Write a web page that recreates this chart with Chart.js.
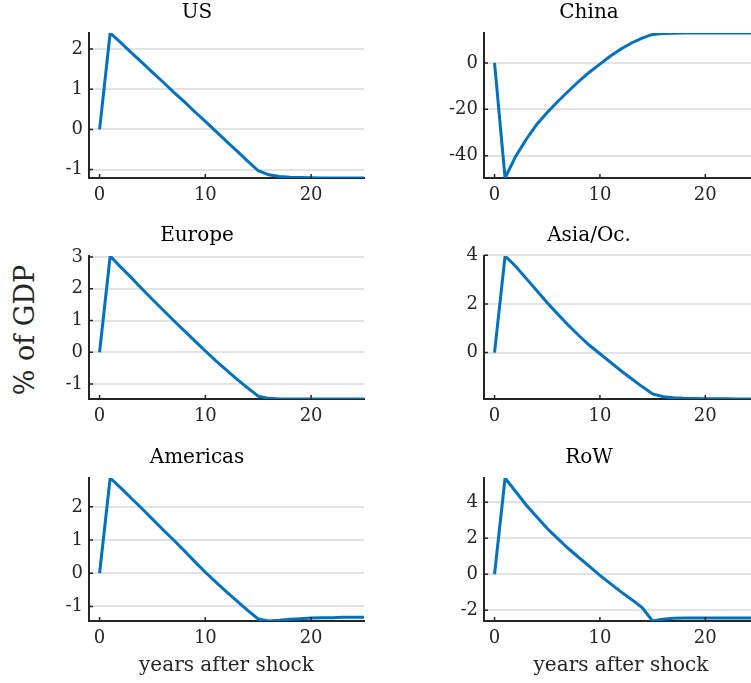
<!DOCTYPE html>
<html>
<head>
<meta charset="utf-8">
<script src="https://cdn.jsdelivr.net/npm/chart.js@4"></script>
<style>
  html, body { margin: 0; padding: 0; background: #fff; overflow: hidden; width: 751px; height: 683px; }
  body { position: relative; }
  canvas { position: absolute; }
  #ylabel {
    position: absolute; left: 24px; top: 330px;
    transform: translate(-50%, -50%) rotate(-90deg);
    font-family: 'DejaVu Serif', serif; font-size: 27px; line-height: 1;
    color: #262626; white-space: nowrap;
  }
</style>
</head>
<body>
<div id="ylabel">% of GDP</div>
<canvas id="cUS"></canvas>
<canvas id="cChina"></canvas>
<canvas id="cEurope"></canvas>
<canvas id="cAsia"></canvas>
<canvas id="cAmericas"></canvas>
<canvas id="cRoW"></canvas>
<script>
// years after the shock
const years = [0, 1, 2, 3, 4, 5, 6, 7, 8, 9, 10, 11, 12, 13, 14, 15, 16, 17, 18, 19, 20, 21, 22, 23, 24, 25];

// % of GDP
const usValues = [0, 2.40, 2.16, 1.91, 1.67, 1.42, 1.18, 0.93, 0.69, 0.44, 0.20, -0.05, -0.30, -0.54, -0.79, -1.03, -1.13, -1.17, -1.19, -1.20, -1.205, -1.21, -1.21, -1.21, -1.21, -1.21];
const chinaValues = [0, -49.6, -40.3, -33.0, -26.5, -21.4, -16.6, -12.2, -7.9, -4.0, -0.5, 3.0, 6.0, 8.6, 10.7, 12.3, 12.7, 12.8, 12.85, 12.9, 12.9, 12.9, 12.9, 12.9, 12.9, 12.9];
const europeValues = [0, 3.03, 2.68, 2.35, 2.00, 1.66, 1.33, 1.00, 0.68, 0.36, 0.04, -0.27, -0.56, -0.85, -1.12, -1.38, -1.45, -1.47, -1.47, -1.47, -1.47, -1.47, -1.47, -1.47, -1.47, -1.47];
const asiaValues = [0, 3.97, 3.55, 3.05, 2.55, 2.05, 1.58, 1.12, 0.70, 0.30, -0.05, -0.40, -0.75, -1.08, -1.40, -1.70, -1.82, -1.86, -1.88, -1.89, -1.90, -1.90, -1.90, -1.91, -1.91, -1.91];
const americasValues = [0, 2.87, 2.57, 2.26, 1.95, 1.63, 1.31, 1.00, 0.68, 0.35, 0.03, -0.27, -0.56, -0.84, -1.12, -1.38, -1.44, -1.42, -1.39, -1.37, -1.35, -1.34, -1.34, -1.33, -1.33, -1.33];
const rowValues = [0, 5.35, 4.60, 3.85, 3.20, 2.54, 1.98, 1.43, 0.93, 0.44, -0.06, -0.52, -0.98, -1.40, -1.85, -2.60, -2.50, -2.45, -2.43, -2.43, -2.43, -2.43, -2.43, -2.43, -2.43, -2.43];

// tick labels
const xTicks = [0, 10, 20];
const usTicks = [-1, 0, 1, 2];
const chinaTicks = [-40, -20, 0];
const europeTicks = [-1, 0, 1, 2, 3];
const asiaTicks = [0, 2, 4];
const americasTicks = [-1, 0, 1, 2];
const rowTicks = [-2, 0, 2, 4];

const xLabel = 'years after shock';

Chart.defaults.font.family = "'DejaVu Serif', serif";
Chart.defaults.color = '#262626';

const axisColor = '#262626';
const lineColor = '#0072BD';

// matlab-style ticks pointing into the plot
const inwardTicks = {
  id: 'inwardTicks',
  afterDatasetsDraw(chart) {
    const { ctx, chartArea: a, scales: { x, y } } = chart;
    ctx.save();
    ctx.strokeStyle = axisColor;
    ctx.lineWidth = 1.5;
    ctx.beginPath();
    x.ticks.forEach(t => {
      const px = x.getPixelForValue(t.value);
      ctx.moveTo(px, a.bottom);
      ctx.lineTo(px, a.bottom - 4);
    });
    y.ticks.forEach(t => {
      const py = y.getPixelForValue(t.value);
      ctx.moveTo(a.left, py);
      ctx.lineTo(a.left + 4, py);
    });
    ctx.stroke();
    ctx.restore();
  }
};

function makeChart(id, title, values, yTicks, box) {
  const canvas = document.getElementById(id);
  const titleH = 32;
  const xh = box.bottomRow ? 62 : 30;
  canvas.width = box.w;
  canvas.height = titleH + box.plotH + xh;
  canvas.style.left = box.left + 'px';
  canvas.style.top = (box.plotTop - titleH) + 'px';

  return new Chart(canvas, {
    type: 'line',
    data: {
      datasets: [{
        data: years.map((yr, i) => ({ x: yr, y: values[i] })),
        borderColor: lineColor,
        borderWidth: 3,
        pointRadius: 0,
        tension: 0,
        fill: false,
      }]
    },
    options: {
      responsive: false,
      animation: false,
      events: [],
      layout: { padding: { left: 0, right: box.padRight, top: 0, bottom: 0 } },
      plugins: {
        legend: { display: false },
        tooltip: { enabled: false },
        title: {
          display: true,
          text: title,
          color: '#000',
          font: { size: 20, weight: 'normal', lineHeight: 1.2 },
          padding: { top: 0, bottom: 8 },
        },
      },
      scales: {
        x: {
          type: 'linear',
          min: -1,
          max: years[years.length - 1],
          afterBuildTicks: s => { s.ticks = xTicks.map(v => ({ value: v })); },
          afterFit: s => { s.height = xh; },
          grid: { display: false, drawTicks: false },
          border: { color: axisColor, width: 2 },
          ticks: { padding: 7, font: { size: 18 }, color: axisColor, maxRotation: 0 },
          title: {
            display: !!box.bottomRow,
            text: xLabel,
            color: axisColor,
            font: { size: 20, lineHeight: 1.2 },
            padding: { top: 0, bottom: 5 },
          },
        },
        y: {
          min: Math.min(...values),
          max: Math.max(...values),
          afterBuildTicks: s => { s.ticks = yTicks.map(v => ({ value: v })); },
          afterFit: s => { s.width = box.yWidth; },
          grid: { color: '#e2e2e2', lineWidth: 2, drawTicks: false },
          border: { color: axisColor, width: 2 },
          ticks: { padding: 6, font: { size: 18 }, color: axisColor },
        },
      },
    },
    plugins: [inwardTicks],
  });
}

const leftCol = { left: 30, w: 340, yWidth: 59, padRight: 6 };
const rightCol = { left: 420, w: 350, yWidth: 64, padRight: 12 };
const rows = [
  { plotTop: 33, plotH: 145 },
  { plotTop: 256, plotH: 143 },
  { plotTop: 478, plotH: 143, bottomRow: true },
];

makeChart('cUS', 'US', usValues, usTicks, { ...leftCol, ...rows[0] });
makeChart('cChina', 'China', chinaValues, chinaTicks, { ...rightCol, ...rows[0] });
makeChart('cEurope', 'Europe', europeValues, europeTicks, { ...leftCol, ...rows[1] });
makeChart('cAsia', 'Asia/Oc.', asiaValues, asiaTicks, { ...rightCol, ...rows[1] });
makeChart('cAmericas', 'Americas', americasValues, americasTicks, { ...leftCol, ...rows[2] });
makeChart('cRoW', 'RoW', rowValues, rowTicks, { ...rightCol, ...rows[2] });
</script>
</body>
</html>
